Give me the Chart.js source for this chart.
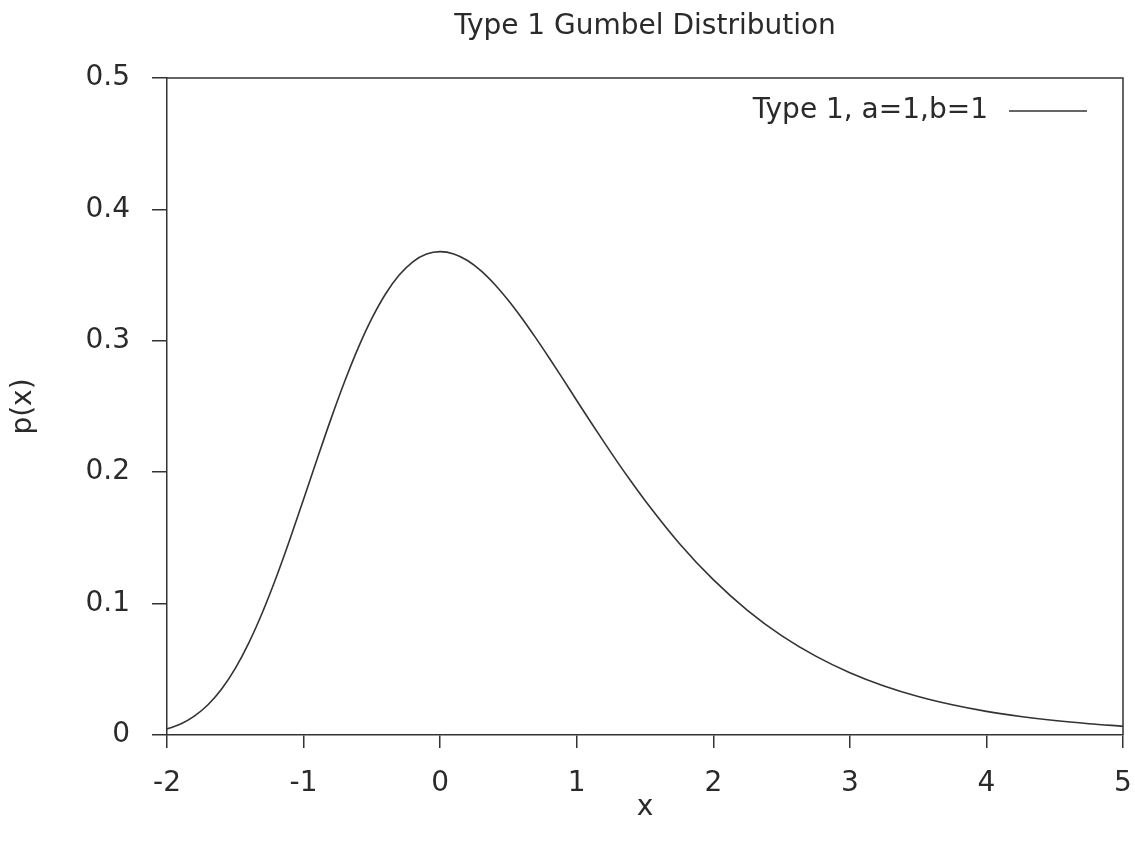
<!DOCTYPE html>
<html>
<head>
<meta charset="utf-8">
<script src="https://cdn.jsdelivr.net/npm/chart.js@4/dist/chart.umd.min.js"></script>
<style>
  html, body { margin: 0; padding: 0; background: #fff; }
  #wrap { width: 1135px; height: 848px; }
</style>
</head>
<body>
<div id="wrap"><canvas id="myChart"></canvas></div>
<script>
// values
var xValues = [-2, -1.9, -1.8, -1.7, -1.6, -1.5, -1.4, -1.3, -1.2, -1.1,
               -1, -0.9, -0.8, -0.7, -0.6, -0.5, -0.4, -0.3, -0.2, -0.1,
               0, 0.1, 0.2, 0.3, 0.4, 0.5, 0.6, 0.7, 0.8, 0.9,
               1, 1.1, 1.2, 1.3, 1.4, 1.5, 1.75, 2, 2.25, 2.5,
               2.75, 3, 3.25, 3.5, 3.75, 4, 4.25, 4.5, 4.75, 5];
var pValues = [0.0046, 0.0083, 0.0143, 0.0230, 0.0350, 0.0507, 0.0703, 0.0936, 0.1200, 0.1489,
               0.1795, 0.2102, 0.2404, 0.2688, 0.2946, 0.3170, 0.3356, 0.3500, 0.3601, 0.3660,
               0.3679, 0.3661, 0.3611, 0.3532, 0.3429, 0.3307, 0.3170, 0.3022, 0.2867, 0.2708,
               0.2546, 0.2386, 0.2229, 0.2075, 0.1927, 0.1785, 0.1460, 0.1182, 0.0949, 0.0756,
               0.0600, 0.0474, 0.0373, 0.0293, 0.0230, 0.0180, 0.0141, 0.0110, 0.0086, 0.0067];

var seriesLabel = "Type 1, a=1,b=1";
var chartTitle = "Type 1 Gumbel Distribution";
var xTitle = "x";
var yTitle = "p(x)";

var points = xValues.map(function (x, i) { return { x: x, y: pValues[i] }; });

var ink = '#2a2a2a';
var fontFamily = "'DejaVu Sans', sans-serif";
var fontSize = 28;

// top/right frame and the legend (line sample right of the text)
var framePlugin = {
  id: 'frame',
  afterDraw: function (chart) {
    var a = chart.chartArea;
    var ctx = chart.ctx;
    ctx.save();
    ctx.strokeStyle = '#333';
    ctx.lineWidth = 1.5;
    ctx.beginPath();
    ctx.moveTo(a.left, a.top);
    ctx.lineTo(a.right, a.top);
    ctx.lineTo(a.right, a.bottom);
    ctx.stroke();

    var ds = chart.data.datasets[0];
    var ly = a.top + 33;
    ctx.font = fontSize + 'px ' + fontFamily;
    ctx.fillStyle = ink;
    ctx.textAlign = 'right';
    ctx.textBaseline = 'middle';
    ctx.fillText(ds.label, a.right - 135, ly);
    ctx.strokeStyle = ds.borderColor;
    ctx.lineWidth = ds.borderWidth;
    ctx.beginPath();
    ctx.moveTo(a.right - 114, ly);
    ctx.lineTo(a.right - 36, ly);
    ctx.stroke();
    ctx.restore();
  }
};

var ctx = document.getElementById('myChart').getContext('2d');
var myChart = new Chart(ctx, {
  type: 'line',
  data: {
    datasets: [{
      label: seriesLabel,
      data: points,
      borderColor: '#333',
      borderWidth: 1.6,
      pointRadius: 0,
      fill: false,
      cubicInterpolationMode: 'monotone'
    }]
  },
  options: {
    responsive: true,
    maintainAspectRatio: false,
    animation: false,
    layout: { padding: { left: 0, right: 12, top: 0, bottom: 0 } },
    plugins: {
      legend: { display: false },
      tooltip: { enabled: false },
      title: {
        display: true,
        text: chartTitle,
        fullSize: false,
        color: ink,
        font: { family: fontFamily, size: fontSize, weight: 'normal' },
        padding: { top: 10, bottom: 34.4 }
      }
    },
    scales: {
      x: {
        type: 'linear',
        min: -2,
        max: 5,
        afterFit: function (scale) {
          scale.height = 113;
          scale.paddingLeft = 0;
          scale.paddingRight = 12;
        },
        ticks: {
          stepSize: 1,
          color: ink,
          padding: 19,
          maxRotation: 0,
          font: { family: fontFamily, size: fontSize }
        },
        grid: { drawOnChartArea: false, drawTicks: true, tickLength: 13, color: '#333', lineWidth: 1.5 },
        border: { color: '#333', width: 1.5 },
        title: {
          display: true,
          text: xTitle,
          color: ink,
          font: { family: fontFamily, size: fontSize },
          padding: { top: 0, bottom: 23 }
        }
      },
      y: {
        min: 0,
        max: 0.5,
        afterFit: function (scale) { scale.width = 167; },
        ticks: {
          stepSize: 0.1,
          color: ink,
          padding: 22,
          font: { family: fontFamily, size: fontSize }
        },
        grid: { drawOnChartArea: false, drawTicks: true, tickLength: 15, color: '#333', lineWidth: 1.5 },
        border: { color: '#333', width: 1.5 },
        title: {
          display: true,
          text: yTitle,
          color: ink,
          font: { family: fontFamily, size: fontSize },
          padding: { top: 7, bottom: 0 }
        }
      }
    }
  },
  plugins: [framePlugin]
});
</script>
</body>
</html>
